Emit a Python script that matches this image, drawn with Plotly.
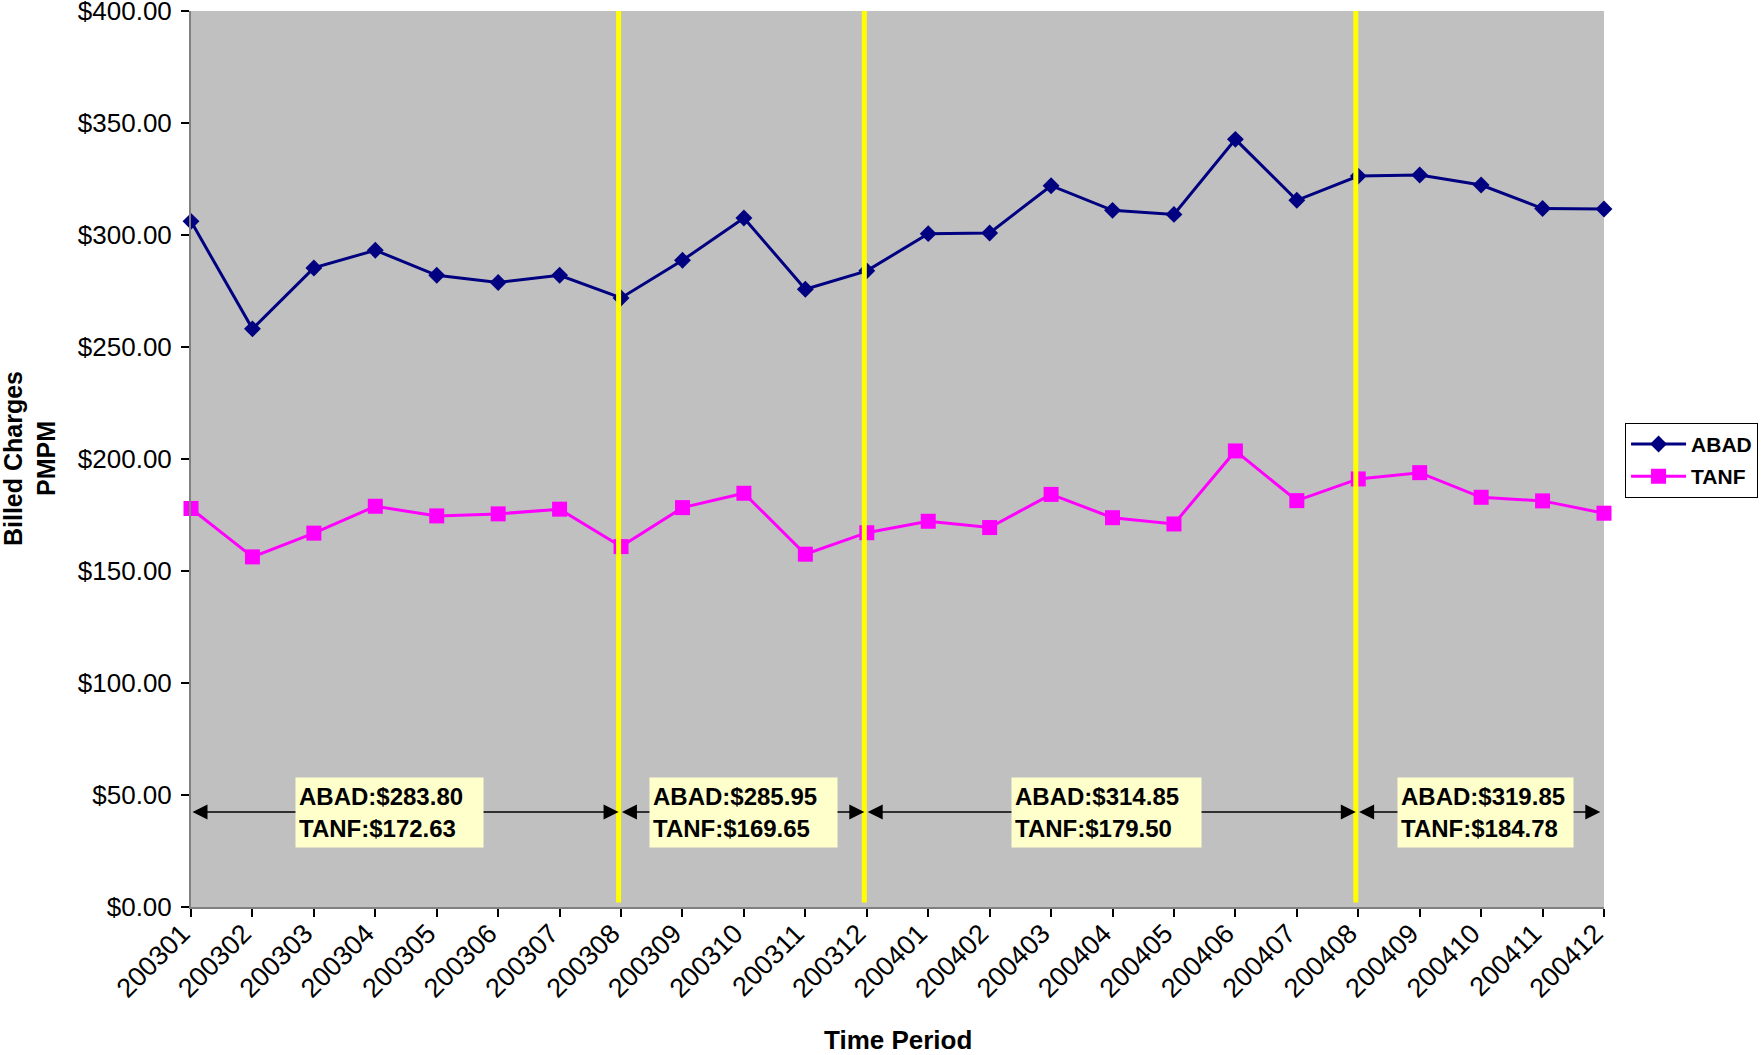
import plotly.graph_objects as go

months = ["200301", "200302", "200303", "200304", "200305", "200306", "200307", "200308",
          "200309", "200310", "200311", "200312", "200401", "200402", "200403", "200404",
          "200405", "200406", "200407", "200408", "200409", "200410", "200411", "200412"]
abad = [306.1, 258.1, 285.3, 293.2, 282.0, 278.8, 282.0, 271.9,
        288.7, 307.6, 275.8, 284.0, 300.6, 300.9, 322.0, 311.0,
        309.2, 342.7, 315.5, 326.3, 326.8, 322.3, 311.8, 311.6]
tanf = [177.9, 156.3, 166.9, 178.9, 174.6, 175.5, 177.6, 160.9,
        178.3, 184.7, 157.5, 167.1, 172.2, 169.4, 184.2, 173.8,
        171.0, 203.6, 181.4, 191.1, 193.9, 182.9, 181.3, 175.8]
boundaries = ["200308", "200312", "200408"]
avg_abad = ["$283.80", "$285.95", "$314.85", "$319.85"]
avg_tanf = ["$172.63", "$169.65", "$179.50", "$184.78"]

FONT = "Arial, Liberation Sans, sans-serif"

fig = go.Figure()
fig.add_trace(go.Scatter(x=months, y=abad, name="ABAD", mode="lines+markers",
                         legendgroup="a",
                         line=dict(color="#000080", width=3),
                         marker=dict(symbol="diamond", size=13, color="#000080"),
                         cliponaxis=False))
fig.add_trace(go.Scatter(x=months, y=tanf, name="TANF", mode="lines+markers",
                         legendgroup="b",
                         line=dict(color="#FF00FF", width=3),
                         marker=dict(symbol="square", size=15, color="#FF00FF"),
                         cliponaxis=False))

n = len(months)
bpos = [months.index(b) - 0.04 for b in boundaries]
shapes = []
for bx in bpos:
    shapes.append(dict(type="line", xref="x", yref="y", x0=bx, x1=bx, y0=2, y1=401.5,
                       line=dict(color="#FFFF00", width=5), layer="above"))

annotations = []
edges = [0] + bpos + [n - 1 - 0.06]
arrow_y = 42.4
for i in range(len(edges) - 1):
    a, b = edges[i], edges[i + 1]
    a2 = a + (0.03 if i > 0 else 0)
    annotations.append(dict(x=b, y=arrow_y, ax=a2, ay=arrow_y, xref="x", yref="y",
                            axref="x", ayref="y", text="", showarrow=True,
                            arrowhead=2, startarrowhead=2, arrowside="end+start",
                            arrowsize=2, startarrowsize=2, arrowwidth=1.5,
                            arrowcolor="#000000", standoff=0, startstandoff=0))

box_left = [1.69, 7.46, 13.35, 19.63]
box_w = [189, 189, 191, 177]
for i in range(4):
    annotations.append(dict(x=box_left[i], y=42.0, xref="x", yref="y",
                            xanchor="left", yanchor="middle", showarrow=False,
                            text="ABAD:" + avg_abad[i] + "<br>TANF:" + avg_tanf[i],
                            align="left", bgcolor="#FFFFCC", borderpad=3, borderwidth=1,
                            bordercolor="rgba(0,0,0,0)",
                            width=box_w[i] - 8, height=63,
                            font=dict(family=FONT, size=24, color="#000000", weight="bold")))

annotations.append(dict(x=0.5, y=-0.148, xref="paper", yref="paper", showarrow=False,
                        text="Time Period", xanchor="center", yanchor="middle",
                        font=dict(family=FONT, size=26, color="#000000", weight="bold")))
annotations.append(dict(x=-0.1146, y=0.5, xref="paper", yref="paper", showarrow=False,
                        text="Billed Charges<br>PMPM", textangle=-90,
                        xanchor="center", yanchor="middle",
                        font=dict(family=FONT, size=25, color="#000000", weight="bold")))

fig.update_layout(
    width=1761, height=1055,
    margin=dict(l=191, r=157, t=11, b=147.5, autoexpand=False),
    paper_bgcolor="#FFFFFF", plot_bgcolor="#C0C0C0",
    font=dict(family=FONT, color="#000000"),
    shapes=shapes, annotations=annotations,
    legend=dict(x=1.0149, y=0.5404, xanchor="left", yanchor="top",
                bgcolor="#FFFFFF", bordercolor="#000000", borderwidth=1,
                font=dict(family=FONT, size=21, color="#000000", weight="bold"),
                itemwidth=55, tracegroupgap=2),
    showlegend=True,
)
fig.update_xaxes(type="category", range=[0, n - 1], showgrid=False, zeroline=False,
                 showline=True, linecolor="#808080", linewidth=2,
                 ticks="outside", ticklen=8, tickcolor="#000000", tickwidth=1.5,
                 tickangle=-45, ticklabelshift=-9, ticklabelstandoff=-10,
                 tickfont=dict(family=FONT, size=27, color="#000000"))
fig.update_yaxes(range=[0, 400], dtick=50, showgrid=False, zeroline=False,
                 showline=True, linecolor="#808080", linewidth=2,
                 ticks="outside", ticklen=8, tickcolor="#000000", tickwidth=1.5,
                 tickprefix="$", tickformat=".2f", ticklabelstandoff=4,
                 ticklabeloverflow="allow",
                 tickfont=dict(family=FONT, size=26, color="#000000"))

fig.write_html("out.html", config={"displayModeBar": False},
               post_script="document.body.style.margin='0';document.body.style.overflow='hidden';")
